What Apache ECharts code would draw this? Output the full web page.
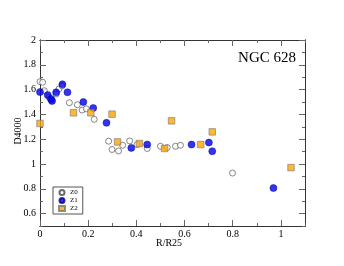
<!DOCTYPE html>
<html><head><meta charset="utf-8">
<script src="https://cdn.jsdelivr.net/npm/echarts@6/dist/echarts.min.js"></script>
<style>html,body{margin:0;padding:0;background:#fff}#c{width:344px;height:266px}</style>
</head><body><div id="c"></div>
<script>
var z0 = [[0,1.664],[0.011,1.659],[0.018,1.591],[0.0375,1.54],[0.05,1.516],[0.067,1.564],[0.079,1.605],[0.092,1.63],
  [0.122,1.494],[0.155,1.478],[0.175,1.435],[0.192,1.445],[0.225,1.36],
  [0.285,1.184],[0.299,1.117],[0.326,1.105],[0.343,1.151],[0.372,1.186],[0.403,1.157],[0.445,1.125],
  [0.5,1.143],[0.528,1.133],[0.5625,1.143],[0.583,1.151],[0.799,0.927]];
var z1 = [[0,1.58],[0.032,1.556],[0.045,1.525],[0.05,1.508],[0.067,1.578],[0.093,1.643],[0.114,1.578],
  [0.18,1.5],[0.221,1.451],[0.276,1.332],[0.379,1.13],[0.445,1.157],[0.629,1.157],[0.701,1.173],[0.715,1.103],[0.969,0.806]];
var z2 = [[0,1.327],[0.139,1.413],[0.211,1.413],[0.299,1.402],[0.322,1.178],[0.4125,1.165],[0.517,1.125],
  [0.546,1.348],[0.667,1.157],[0.715,1.259],[1.042,0.971]];
var yMajor = [0.6,0.8,1.0,1.2,1.4,1.6,1.8,2.0];
var xMajor = [0,0.2,0.4,0.6,0.8,1.0];
var seriesNames = ['Z0','Z1','Z2'];

var FONT = 'Liberation Serif';
var AX = '#333';
function fmt1(v){ return String(+(+v).toFixed(1)); }
function base(extra){
  var o = {type:'value', splitLine:{show:false},
    axisLine:{show:true,onZero:false,lineStyle:{color:AX,width:1}},
    axisTick:{show:true,inside:true,length:3,lineStyle:{color:'#666'}},
    axisLabel:{show:false}};
  for (var k in extra) o[k]=extra[k];
  return o;
}
var chart = echarts.init(document.getElementById('c'), null, {renderer:'canvas'});
chart.setOption({
  animation:false,
  grid:{left:40,right:39,top:40,bottom:40,containLabel:false},
  xAxis:[
    base({position:'bottom',min:0,max:1.1,interval:0.1,
      axisLabel:{show:true,customValues:xMajor,formatter:fmt1,fontFamily:FONT,fontSize:10,color:'#000',margin:3}}),
    base({position:'bottom',min:0,max:1.1,axisTick:{show:true,inside:true,length:6,customValues:xMajor,lineStyle:{color:'#666'}}}),
    base({position:'top',min:0,max:1.1,interval:0.1}),
    base({position:'top',min:0,max:1.1,axisTick:{show:true,inside:true,length:6,customValues:xMajor,lineStyle:{color:'#666'}}})
  ],
  yAxis:[
    base({position:'left',min:0.5,max:2,interval:0.1,
      axisLabel:{show:true,customValues:yMajor,formatter:fmt1,fontFamily:FONT,fontSize:10,color:'#000',margin:4}}),
    base({position:'left',min:0.5,max:2,axisTick:{show:true,inside:true,length:6,customValues:yMajor,lineStyle:{color:'#666'}}}),
    base({position:'right',min:0.5,max:2,interval:0.1}),
    base({position:'right',min:0.5,max:2,axisTick:{show:true,inside:true,length:6,customValues:yMajor,lineStyle:{color:'#666'}}})
  ],
  legend:{show:true,orient:'vertical',left:53,top:187,itemWidth:6,itemHeight:5,itemGap:1,
    padding:[2,5,2,5],borderColor:'#555',borderWidth:1,backgroundColor:'#fff',
    textStyle:{fontFamily:FONT,fontSize:7,lineHeight:7,color:'#000'},data:seriesNames},
  series:[
    {name:seriesNames[0],type:'scatter',data:z0,symbol:'circle',symbolSize:6,
      itemStyle:{color:'#fff',borderColor:'#444',borderWidth:0.8},z:3},
    {name:seriesNames[1],type:'scatter',data:z1,symbol:'circle',symbolSize:7,
      itemStyle:{color:'#0000ee',borderColor:'#00008b',borderWidth:0.6},z:4},
    {name:seriesNames[2],type:'scatter',data:z2,symbol:'rect',symbolSize:6.5,
      itemStyle:{color:'#ffa500',borderColor:'#777',borderWidth:0.8},z:5}
  ],
  graphic:[
    {type:'text',right:48,top:51,style:{text:'NGC 628',font:'15px "Liberation Serif"',fill:'#000'}},
    {type:'text',left:156,top:238,style:{text:'R/R25',font:'10px "Liberation Serif"',fill:'#000'}},
    {type:'text',x:18,y:131,rotation:Math.PI/2,style:{text:'D4000',font:'10px "Liberation Serif"',fill:'#000',align:'center',verticalAlign:'middle'}}
  ]
});
</script></body></html>
